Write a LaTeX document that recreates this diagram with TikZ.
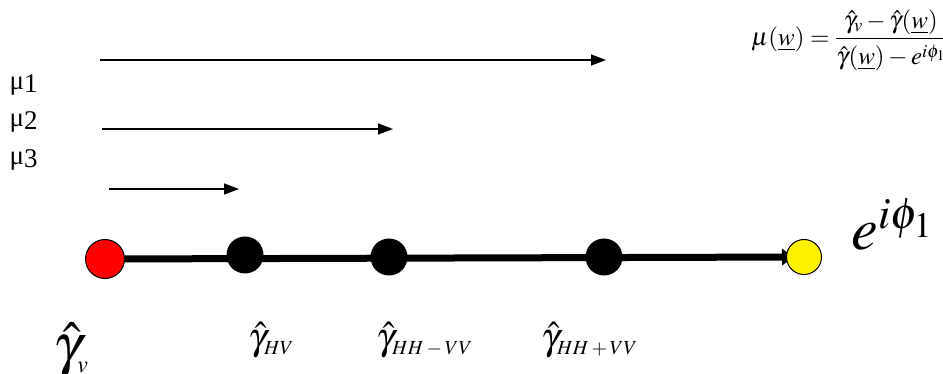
\documentclass[tikz,border=0pt]{standalone}
\usepackage{amsmath}
\usepackage{mathptmx}
\usepackage[no-math]{fontspec}
\setmainfont{Liberation Serif}
\usetikzlibrary{arrows.meta,backgrounds}
\newcommand{\sublab}[2]{\text{\fontsize{#1}{#1}\selectfont$#2$}}
\tikzset{
  dot/.style={circle,fill=black,minimum size=37pt,inner sep=0pt},
  endpoint/.style={circle,draw=black,line width=1pt,minimum size=#1,inner sep=0pt},
  flow/.style={-{Triangle[length=15pt,width=11pt]},line width=1.4pt},
  mulabel/.style={anchor=west,font=\fontsize{27}{30}\selectfont},
  gamlabel/.style={font=\fontsize{38}{42}\selectfont}
}
\begin{document}
\begin{tikzpicture}[x=1pt,y=-1pt]
        \useasboundingbox (0,0) rectangle (943,374);
        % points on the line
        \node[endpoint=39pt,fill=red]    (gv)    at (105, 259) {};
        \node[dot]                       (hv)    at (245, 255) {};
        \node[dot]                       (hhmvv) at (389, 257) {};
        \node[dot]                       (hhpvv) at (604, 257) {};
        \node[endpoint=35pt,fill=yellow] (ephi)  at (804, 257) {};
        % the line itself
        \begin{pgfonlayer}{background}
        \draw[-{Triangle[length=12pt,width=16pt]},line width=7pt,shorten >=-8pt] (gv) -- (ephi);
        \end{pgfonlayer}
        % labels below the line
        \node[font=\fontsize{58}{62}\selectfont,anchor=base west] (lgv) at (50, 364)
          {$\hat{\gamma}_{\sublab{24}{v}}$};
        \node[gamlabel,anchor=base west] (lhv)    at (245, 349) {$\hat{\gamma}_{\sublab{20}{HV}}$};
        \node[gamlabel,anchor=base west] (lhhmvv) at (373, 349) {$\hat{\gamma}_{\sublab{20}{HH-VV}}$};
        \node[gamlabel,anchor=base west] (lhhpvv) at (538, 349) {$\hat{\gamma}_{\sublab{20}{HH+VV}}$};
        \node[font=\fontsize{60}{64}\selectfont,anchor=base west] (lephi) at (848, 250) {$e^{i\phi_1}$};
        % the mu labels and their arrows
        \node[mulabel] (mu1) at (6, 85)  {μ\raisebox{-0.2ex}{1}};
        \node[mulabel] (mu2) at (6, 122) {μ\raisebox{-0.2ex}{2}};
        \node[mulabel] (mu3) at (6, 160) {μ\raisebox{-0.2ex}{3}};
        \coordinate (a1s) at (100, 60);   \coordinate (a1e) at (606, 60);
        \coordinate (a2s) at (102, 129);  \coordinate (a2e) at (393, 129);
        \coordinate (a3s) at (109, 189);  \coordinate (a3e) at (239, 189);
        \draw[flow] (a1s) -- (a1e);
        \draw[flow] (a2s) -- (a2e);
        \draw[flow] (a3s) -- (a3e);
        % formula
        \node[font=\fontsize{25}{29}\selectfont] (formula) at (849, 40)
          {$\mu(\underline{w})=\dfrac{\hat{\gamma}_v-\hat{\gamma}(\underline{w})\rule[-4pt]{0pt}{4pt}}{\rule{0pt}{22pt}\hat{\gamma}(\underline{w})-e^{i\phi_1}}$};
\end{tikzpicture}
\end{document}
